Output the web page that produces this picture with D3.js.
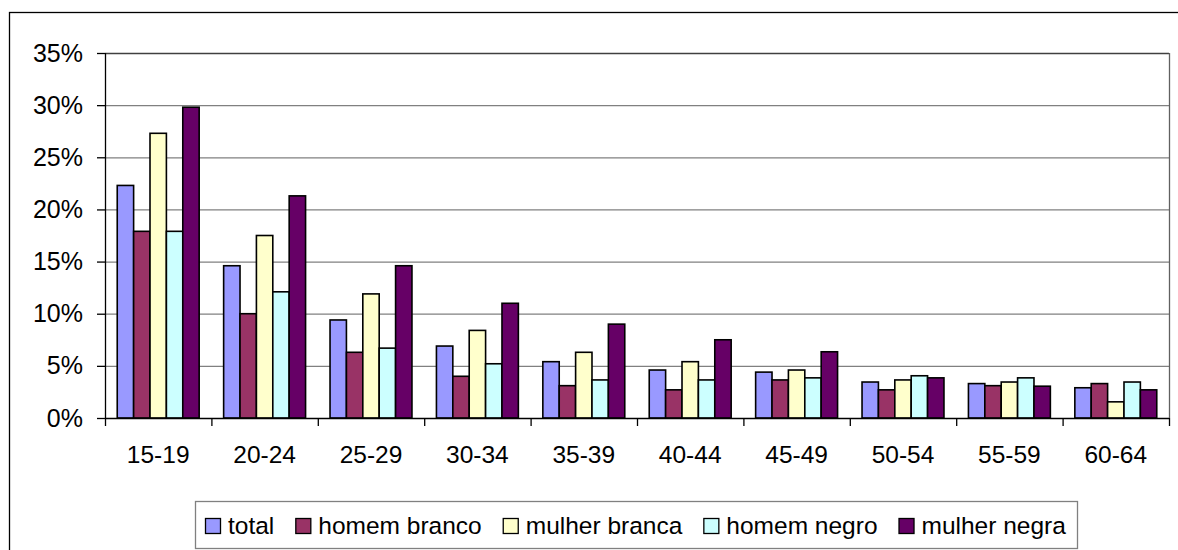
<!DOCTYPE html>
<html>
<head>
<meta charset="utf-8">
<script src="https://cdn.jsdelivr.net/npm/d3@7"></script>
<style>
  body { margin: 0; background: #fff; }
  svg { display: block; font-family: "Liberation Sans", Arial, sans-serif; }
</style>
</head>
<body>
<svg width="1178" height="550"></svg>
<script>
// data (percent)
let ageGroups = ['15-19', '20-24', '25-29', '30-34', '35-39', '40-44', '45-49', '50-54', '55-59', '60-64'];
let seriesNames = ['total', 'homem branco', 'mulher branca', 'homem negro', 'mulher negra'];
let total = [22.3, 14.6, 9.4, 6.9, 5.4, 4.6, 4.4, 3.45, 3.3, 2.9];
let homemBranco = [17.9, 10.0, 6.3, 4.0, 3.1, 2.7, 3.65, 2.7, 3.1, 3.3];
let mulherBranca = [27.3, 17.5, 11.9, 8.4, 6.3, 5.4, 4.6, 3.65, 3.45, 1.55];
let homemNegro = [17.9, 12.1, 6.7, 5.2, 3.65, 3.65, 3.85, 4.05, 3.85, 3.45];
let mulherNegra = [29.8, 21.3, 14.6, 11.0, 9.0, 7.5, 6.35, 3.85, 3.05, 2.7];
let yTicks = [0, 5, 10, 15, 20, 25, 30, 35];
let colors = ['#9999FF', '#993366', '#FFFFCC', '#CCFFFF', '#660066'];

let seriesValues = [total, homemBranco, mulherBranca, homemNegro, mulherNegra];

let svg = d3.select('svg');

// outer chart frame (runs off the right and bottom edge)
svg.append('rect')
  .attr('x', 9.5).attr('y', 12.5)
  .attr('width', 1200).attr('height', 600)
  .attr('fill', 'none').attr('stroke', '#000').attr('stroke-width', 1.3);

let margin = { top: 53, left: 105 },
  width = 1064,
  height = 365,
  g = svg.append('g').attr('transform', `translate(${margin.left}, ${margin.top})`);

let x = d3.scaleBand().domain(ageGroups).range([0, width]).padding(0);
let groupPad = x.bandwidth() * 0.115;
let x1 = d3.scaleBand().domain(seriesNames).range([groupPad, x.bandwidth() - groupPad]).padding(0);
let y = d3.scaleLinear().domain([0, 35]).range([height, 0]);
let z = d3.scaleOrdinal().domain(seriesNames).range(colors);

// gridlines
g.append('g')
  .selectAll('line')
  .data(yTicks.filter(d => d > 0))
  .join('line')
  .attr('x1', 0).attr('x2', width)
  .attr('y1', d => y(d) + 0.5).attr('y2', d => y(d) + 0.5)
  .attr('stroke', d => d === 35 ? '#404040' : '#808080').attr('stroke-width', 1.3);

// right border of plot area
g.append('line')
  .attr('x1', width + 0.5).attr('x2', width + 0.5)
  .attr('y1', 0).attr('y2', height)
  .attr('stroke', '#606060').attr('stroke-width', 1.3);

// bars
let rows = ageGroups.map((a, i) => ({ age: a, vals: seriesNames.map((s, j) => ({ key: s, value: seriesValues[j][i] })) }));

g.append('g')
  .selectAll('g')
  .data(rows)
  .join('g')
  .attr('transform', d => `translate(${x(d.age)},0)`)
  .selectAll('rect')
  .data(d => d.vals)
  .join('rect')
  .attr('x', d => x1(d.key))
  .attr('y', d => y(d.value))
  .attr('width', x1.bandwidth())
  .attr('height', d => y(0) - y(d.value))
  .attr('fill', d => z(d.key))
  .attr('stroke', '#000')
  .attr('stroke-width', 1.6);

// y axis
let yAxis = g.append('g')
  .call(d3.axisLeft(y).tickValues(yTicks).tickFormat(d => d + '%').tickSize(8).tickPadding(14));
yAxis.selectAll('line').attr('stroke', '#000').attr('stroke-width', 1.3);
yAxis.select('.domain').attr('stroke', '#000').attr('stroke-width', 1.3).attr('d', `M0.5,0V${height}`);
yAxis.selectAll('text').attr('font-size', 25).attr('fill', '#000').attr('font-family', '"Liberation Sans", Arial, sans-serif');

// x axis: ticks sit on band edges
let xAxis = g.append('g').attr('transform', `translate(0,${height})`);
xAxis.append('line')
  .attr('x1', 0).attr('x2', width)
  .attr('y1', 0.5).attr('y2', 0.5)
  .attr('stroke', '#000').attr('stroke-width', 1.3);
xAxis.selectAll('.edge')
  .data(ageGroups.concat(['end']))
  .join('line')
  .attr('class', 'edge')
  .attr('x1', (d, i) => i * x.bandwidth() + 0.5)
  .attr('x2', (d, i) => i * x.bandwidth() + 0.5)
  .attr('y1', 0).attr('y2', 8)
  .attr('stroke', '#000').attr('stroke-width', 1.3);
xAxis.selectAll('text')
  .data(ageGroups)
  .join('text')
  .attr('x', d => x(d) + x.bandwidth() / 2)
  .attr('y', 45)
  .attr('text-anchor', 'middle')
  .attr('font-size', 24.5)
  .text(d => d);

// legend
let legend = svg.append('g');
legend.append('rect')
  .attr('x', 195.5).attr('y', 501.5)
  .attr('width', 882).attr('height', 47)
  .attr('fill', '#fff').attr('stroke', '#808080').attr('stroke-width', 1.3);

let lx = 205;
seriesNames.forEach((s, i) => {
  legend.append('rect')
    .attr('x', lx + 0.5).attr('y', 518.5)
    .attr('width', 15).attr('height', 15)
    .attr('fill', z(s)).attr('stroke', '#000').attr('stroke-width', 1.3);
  let t = legend.append('text')
    .attr('x', lx + 23).attr('y', 534)
    .attr('font-size', 24.5)
    .text(s);
  lx += 23 + t.node().getComputedTextLength() + 21;
});
</script>
</body>
</html>
